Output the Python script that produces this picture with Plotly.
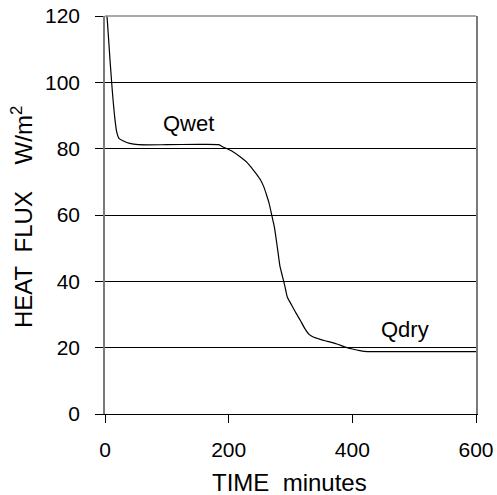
import plotly.graph_objects as go

time_min = [1, 4, 8, 12, 16, 19, 23, 29, 40, 54, 100, 150, 184, 190, 205, 219, 230, 238, 245, 252,
            257, 261, 265, 268, 271, 274, 277, 280, 283, 287, 291, 295, 302, 309, 316, 323, 330, 336,
            348, 360, 375, 390, 400, 412, 425, 450, 500, 550, 600]
heat_flux = [125, 118, 107, 97, 89, 85, 83, 82.4, 81.6, 81.2, 81.2, 81.3, 81.2, 80.6, 79.3, 77.5, 75.8, 74, 72.3, 70.4,
             68.4, 66.2, 63.8, 61.4, 58.8, 56.3, 52.5, 48.5, 44.5, 41.5, 38.5, 35.2, 32.8, 30.4, 28.2, 25.8, 24.0, 23.3,
             22.5, 21.9, 21.1, 20.1, 19.6, 19.1, 18.8, 18.8, 18.8, 18.8, 18.8]

x_ticks = [0, 200, 400, 600]
y_ticks = [0, 20, 40, 60, 80, 100, 120]

curve_labels = ["Qwet", "Qdry"]
label_x = [135, 485]
label_y = [87.5, 25.4]

FONT = "Liberation Sans, Arial"

fig = go.Figure()
fig.add_trace(go.Scatter(x=time_min, y=heat_flux, mode="lines",
                         line=dict(color="black", width=1.2, shape="spline", smoothing=0.6),
                         showlegend=False, hoverinfo="skip", cliponaxis=True))

for t, x, y in zip(curve_labels, label_x, label_y):
    fig.add_annotation(x=x, y=y, text=t, showarrow=False,
                       font=dict(family=FONT, size=22, color="black"))

# axis titles
fig.add_annotation(xref="paper", yref="paper", x=0.497, y=-0.171, text="TIME&nbsp;&nbsp;minutes",
                   showarrow=False, xanchor="center", yanchor="middle",
                   font=dict(family=FONT, size=24, color="black"))
fig.add_annotation(xref="paper", yref="paper", x=-0.222, y=0.494,
                   text="HEAT&nbsp;&nbsp;FLUX&nbsp;&nbsp;&nbsp;&nbsp;W/m<sup>2</sup>",
                   showarrow=False, xanchor="center", yanchor="middle", textangle=-90,
                   font=dict(family=FONT, size=24, color="black"))

# top border in gray
fig.add_shape(type="line", xref="paper", yref="paper", x0=0, x1=1, y0=1, y1=1,
              line=dict(color="#8c8c8c", width=1.5))

fig.update_layout(
    width=497, height=495,
    margin=dict(l=105, r=21, t=16, b=81, autoexpand=False),
    paper_bgcolor="white", plot_bgcolor="white",
    font=dict(family=FONT, size=21, color="black"),
)
fig.update_xaxes(range=[0, 600], tickvals=x_ticks, ticks="outside", ticklen=8, tickcolor="black",
                 showline=True, linecolor="black", linewidth=1, showgrid=False, zeroline=False,
                 tickfont=dict(size=21), ticklabelstandoff=9, automargin=False)
fig.update_yaxes(range=[0, 120], tickvals=y_ticks, ticks="outside", ticklen=8, tickcolor="black",
                 showline=True, linecolor="#7a7a7a", linewidth=1.5, mirror=True,
                 showgrid=True, gridcolor="black", gridwidth=1, zeroline=False,
                 tickfont=dict(size=21), ticklabelstandoff=11, automargin=False)

fig.write_html("out.html")
